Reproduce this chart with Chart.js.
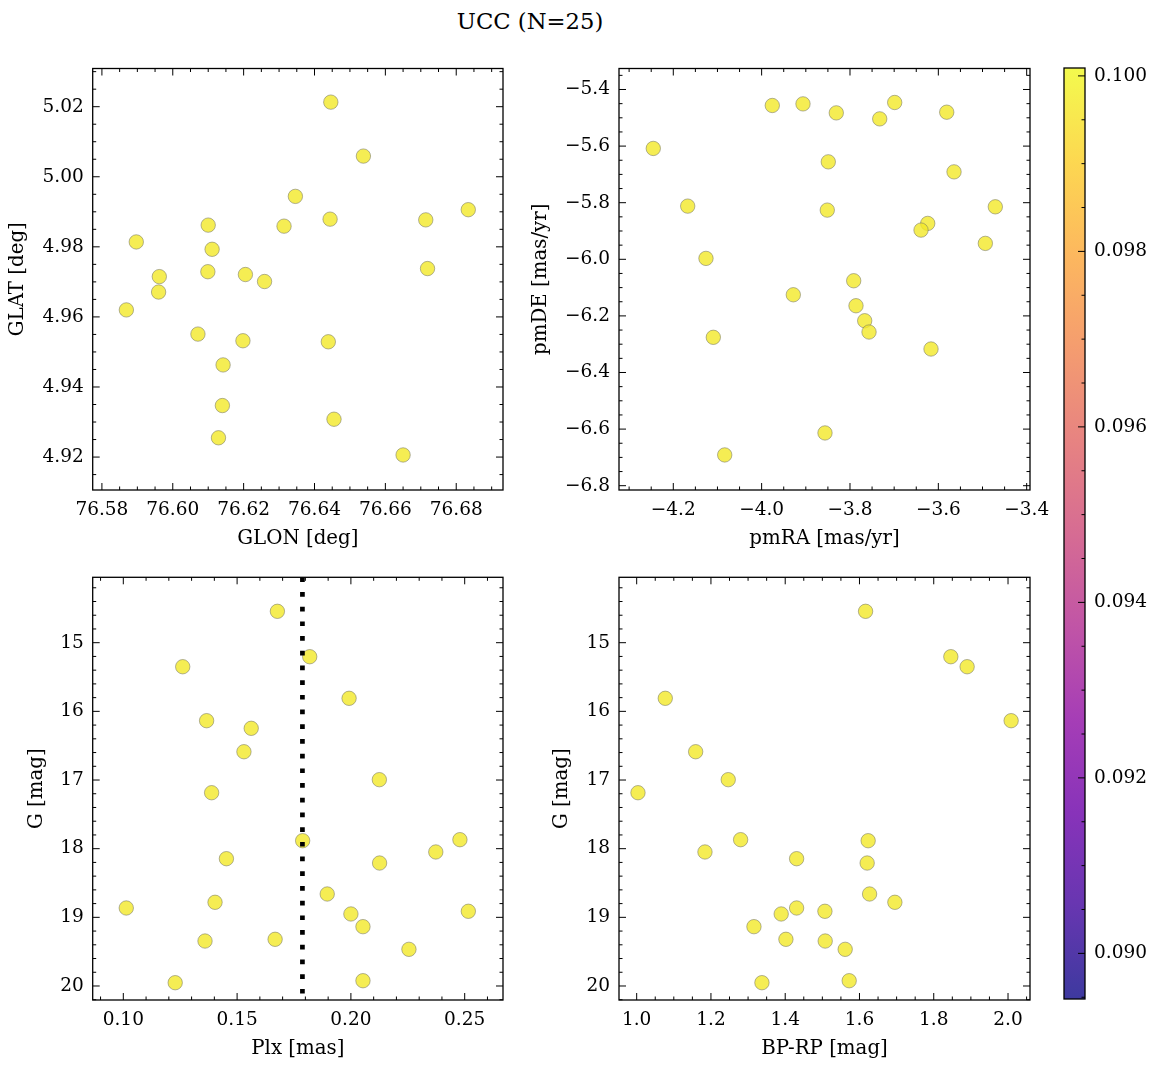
<!DOCTYPE html>
<html lang="en">
<head>
<meta charset="UTF-8" />
<title>UCC (N=25)</title>
<style>
  body {
    margin: 0;
    background: #ffffff;
    font-family: 'DejaVu Serif', serif;
  }
  #page {
    position: relative;
    width: 1161px;
    height: 1067px;
    overflow: hidden;
  }
  #page canvas {
    position: absolute;
  }
  #title {
    position: absolute;
    left: 530px;
    top: 21px;
    transform: translate(-50%, -50%);
    font-size: 22.7px;
    line-height: 1;
    color: #000;
    white-space: nowrap;
  }
</style>
</head>
<body>
<div id="page">
  <div id="title">UCC (N=25)</div>
  <canvas id="c1" width="540" height="520" style="left:0px;top:40px"></canvas>
  <canvas id="c2" width="535" height="520" style="left:525px;top:40px"></canvas>
  <canvas id="c3" width="540" height="517" style="left:0px;top:550px"></canvas>
  <canvas id="c4" width="535" height="517" style="left:525px;top:550px"></canvas>
  <canvas id="cb" width="121" height="1000" style="left:1040px;top:40px"></canvas>
</div>

<script src="https://cdn.jsdelivr.net/npm/chart.js"></script>
<script>
// galactic coordinates
const GLON = [76.6446, 76.6538, 76.6346, 76.6444, 76.6834, 76.6714, 76.6100, 76.6314, 76.5897, 76.6111,
              76.6099, 76.6205, 76.6259, 76.5962, 76.5960, 76.6719, 76.5869, 76.6071, 76.6198, 76.6439,
              76.6142, 76.6140, 76.6455, 76.6129, 76.6650];
const GLAT = [5.0213, 5.0059, 4.9944, 4.9879, 4.9906, 4.9877, 4.9862, 4.9859, 4.9814, 4.9793,
              4.9729, 4.9721, 4.9701, 4.9715, 4.9671, 4.9738, 4.9620, 4.9551, 4.9532, 4.9529,
              4.9463, 4.9347, 4.9308, 4.9255, 4.9206];

// proper motions
const PMRA = [-3.9759, -3.9064, -3.8310, -3.7327, -3.6988, -3.5810, -4.2453, -3.8491, -3.5645, -4.1674,
              -3.8514, -3.4710, -3.6240, -3.6392, -3.4936, -4.1260, -3.7916, -3.9283, -3.7864, -3.7667,
              -3.7569, -4.1094, -3.6166, -3.8566, -4.0836];
const PMDE = [-5.4565, -5.4508, -5.4826, -5.5038, -5.4459, -5.4802, -5.6083, -5.6556, -5.6910, -5.8121,
              -5.8262, -5.8145, -5.8732, -5.8968, -5.9438, -5.9968, -6.0758, -6.1253, -6.1641, -6.2171,
              -6.2570, -6.2757, -6.3170, -6.6136, -6.6913];

// photometry + parallax (same stars, same order)
const GMAG = [14.543, 15.204, 15.350, 15.810, 16.136, 16.247, 16.588, 16.995, 17.185, 17.869,
              17.884, 18.048, 18.146, 18.209, 18.660, 18.781, 18.864, 18.912, 18.951, 19.136,
              19.320, 19.345, 19.466, 19.923, 19.952];
const PLX  = [0.1677, 0.1819, 0.1261, 0.1992, 0.1366, 0.1562, 0.1530, 0.2125, 0.1388, 0.2479,
              0.1788, 0.2373, 0.1453, 0.2126, 0.1896, 0.1403, 0.1013, 0.2516, 0.2000, 0.2053,
              0.1667, 0.1359, 0.2255, 0.2053, 0.1228];
const BPRP = [1.6164, 1.8460, 1.8899, 1.0770, 2.0084, null, 1.1588, 1.2466, 1.0035, 1.2799,
              1.6234, 1.1839, 1.4307, 1.6207, 1.6272, 1.6953, 1.4307, 1.5069, 1.3892, 1.3158,
              1.4019, 1.5077, 1.5615, 1.5723, 1.3373];
const PLX_LINE = 0.1787;

// axis limits
const GLON_RANGE = [76.5774, 76.6932];
const GLAT_RANGE = [4.9106, 5.0309];
const PMRA_RANGE = [-4.3229, -3.3925];
const PMDE_RANGE = [-6.8152, -5.3258];
const PLX_RANGE  = [0.08655, 0.26683];
const BPRP_RANGE = [0.9524, 2.0592];
const GMAG_RANGE = [14.0475, 20.204];
const CB_RANGE   = [0.08948, 0.10009];

// tick labels
const GLON_TICKS = [76.58, 76.60, 76.62, 76.64, 76.66, 76.68];
const GLAT_TICKS = [4.92, 4.94, 4.96, 4.98, 5.00, 5.02];
const PMRA_TICKS = [-4.2, -4.0, -3.8, -3.6, -3.4];
const PMDE_TICKS = [-6.8, -6.6, -6.4, -6.2, -6.0, -5.8, -5.6, -5.4];
const PLX_TICKS  = [0.10, 0.15, 0.20, 0.25];
const BPRP_TICKS = [1.0, 1.2, 1.4, 1.6, 1.8, 2.0];
const GMAG_TICKS = [15, 16, 17, 18, 19, 20];
const CB_TICKS   = [0.090, 0.092, 0.094, 0.096, 0.098, 0.100];

// plasma colormap stops
const PLASMA = ['#0d0887', '#41049d', '#6a00a8', '#8f0da4', '#b12a90', '#cc4778',
                '#e16462', '#f2844b', '#fca636', '#fcce25', '#f0f921'];

Chart.defaults.font.family = "'DejaVu Serif', serif";
Chart.defaults.color = '#000';

const TICK_FONT = { size: 18.5 };
const LABEL_FONT = { size: 19.8 };
const POINT_FILL = 'rgba(243, 232, 40, 0.8)';
const POINT_EDGE = 'rgba(120, 120, 100, 0.8)';

function fmt(v, d) {
  return v.toFixed(d).replace('-', '\u2212');
}

function hexToRgba(h, a) {
  const n = parseInt(h.slice(1), 16);
  return `rgba(${n >> 16}, ${(n >> 8) & 255}, ${n & 255}, ${a})`;
}

// box frame plus inward major/minor ticks on the chosen sides
const frameTicks = {
  id: 'frameTicks',
  afterDatasetsDraw(chart, args, opts) {
    const { ctx, chartArea: a } = chart;
    ctx.save();
    ctx.strokeStyle = '#000';
    ctx.lineWidth = 1;
    for (const ax of opts.axes) {
      const s = chart.scales[ax.id];
      const majors = s.ticks.map(t => t.value);
      const minors = [];
      for (let k = Math.ceil(s.min / ax.minor - 1e-6); k * ax.minor <= s.max + 1e-12; k++) {
        const v = k * ax.minor;
        if (!majors.some(m => Math.abs(m - v) < ax.minor * 1e-3)) minors.push(v);
      }
      const draw = (vals, len) => {
        for (const v of vals) {
          const p = s.getPixelForValue(v);
          for (const side of ax.sides) {
            ctx.beginPath();
            if (side === 'bottom') { ctx.moveTo(p, a.bottom); ctx.lineTo(p, a.bottom - len); }
            if (side === 'top') { ctx.moveTo(p, a.top); ctx.lineTo(p, a.top + len); }
            if (side === 'left') { ctx.moveTo(a.left, p); ctx.lineTo(a.left + len, p); }
            if (side === 'right') { ctx.moveTo(a.right, p); ctx.lineTo(a.right - len, p); }
            ctx.stroke();
          }
        }
      };
      draw(majors, 7);
      draw(minors, 3.5);
    }
    ctx.lineWidth = 1.3;
    ctx.strokeRect(a.left, a.top, a.right - a.left, a.bottom - a.top);
    ctx.restore();
  }
};

function axis(o) {
  return {
    type: 'linear',
    position: o.position,
    reverse: !!o.reverse,
    min: o.range[0],
    max: o.range[1],
    grid: { display: false, drawTicks: false },
    border: { display: false },
    afterBuildTicks: s => { s.ticks = o.ticks.map(v => ({ value: v })); },
    afterFit: s => { if (o.width != null) s.width = o.width; if (o.height != null) s.height = o.height; },
    ticks: {
      font: TICK_FONT, color: '#000', padding: o.tickPad, maxRotation: 0, autoSkip: false,
      callback: v => fmt(v, o.digits)
    },
    title: {
      display: !!o.title, text: o.title, font: LABEL_FONT, color: '#000',
      padding: o.titlePad
    }
  };
}

function scatterPanel(id, pts, p, extra) {
  const datasets = [{
    type: 'scatter',
    data: pts,
    order: 1,
    backgroundColor: POINT_FILL,
    borderColor: POINT_EDGE,
    borderWidth: 0.7,
    pointRadius: 7.2,
    pointHoverRadius: 7.2
  }];
  if (extra) datasets.push(extra);
  return new Chart(document.getElementById(id), {
    type: 'scatter',
    data: { datasets },
    plugins: [frameTicks],
    options: {
      responsive: false,
      animation: false,
      events: [],
      layout: { padding: { top: p.padTop, right: p.padRight, left: 0, bottom: 0 } },
      plugins: {
        legend: { display: false },
        tooltip: { enabled: false },
        frameTicks: {
          axes: [
            { id: 'x', minor: p.xMinor, sides: ['bottom', 'top'] },
            { id: 'y', minor: p.yMinor, sides: ['left', 'right'] }
          ]
        }
      },
      scales: {
        x: axis({ position: 'bottom', range: p.xRange, ticks: p.xTicks, digits: p.xDigits,
                  height: p.xHeight, tickPad: 9, title: p.xTitle, titlePad: { top: 0, bottom: p.xTitlePad } }),
        y: axis({ position: 'left', range: p.yRange, ticks: p.yTicks, digits: p.yDigits, reverse: p.yReverse,
                  width: p.yWidth, tickPad: 9, title: p.yTitle, titlePad: { top: p.yTitlePad, bottom: 0 } })
      }
    }
  });
}

const pairs = (xs, ys) => xs.map((x, i) => ({ x, y: ys[i] })).filter(d => d.x != null && d.y != null);

scatterPanel('c1', pairs(GLON, GLAT), {
  padTop: 28.5, padRight: 37, yWidth: 92.7, xHeight: 70,
  xRange: GLON_RANGE, xTicks: GLON_TICKS, xDigits: 2, xMinor: 0.005, xTitle: 'GLON [deg]', xTitlePad: 9.1,
  yRange: GLAT_RANGE, yTicks: GLAT_TICKS, yDigits: 2, yMinor: 0.005, yTitle: 'GLAT [deg]', yTitlePad: 6.1
});

scatterPanel('c2', pairs(PMRA, PMDE), {
  padTop: 28.5, padRight: 30, yWidth: 94, xHeight: 70,
  xRange: PMRA_RANGE, xTicks: PMRA_TICKS, xDigits: 1, xMinor: 0.05, xTitle: 'pmRA [mas/yr]', xTitlePad: 9.1,
  yRange: PMDE_RANGE, yTicks: PMDE_TICKS, yDigits: 1, yMinor: 0.05, yTitle: 'pmDE [mas/yr]', yTitlePad: 4.1
});

scatterPanel('c3', pairs(PLX, GMAG), {
  padTop: 27.3, padRight: 37, yWidth: 92.7, xHeight: 67,
  xRange: PLX_RANGE, xTicks: PLX_TICKS, xDigits: 2, xMinor: 0.01, xTitle: 'Plx [mas]', xTitlePad: 6.1,
  yRange: GMAG_RANGE, yTicks: GMAG_TICKS, yDigits: 0, yMinor: 0.2, yReverse: true, yTitle: 'G [mag]', yTitlePad: 25.1
}, {
  type: 'line',
  data: [{ x: PLX_LINE, y: GMAG_RANGE[0] }, { x: PLX_LINE, y: GMAG_RANGE[1] }],
  order: 0,
  borderColor: '#000',
  borderWidth: 4.7,
  borderDash: [4.7, 10],
  borderCapStyle: 'butt',
  pointRadius: 0,
  fill: false
});

scatterPanel('c4', pairs(BPRP, GMAG), {
  padTop: 27.3, padRight: 30, yWidth: 94, xHeight: 67,
  xRange: BPRP_RANGE, xTicks: BPRP_TICKS, xDigits: 1, xMinor: 0.05, xTitle: 'BP-RP [mag]', xTitlePad: 6.1,
  yRange: GMAG_RANGE, yTicks: GMAG_TICKS, yDigits: 0, yMinor: 0.2, yReverse: true, yTitle: 'G [mag]', yTitlePad: 25.1
});

// colorbar: one floating bar filled with the plasma gradient
new Chart(document.getElementById('cb'), {
  type: 'bar',
  data: {
    labels: [''],
    datasets: [{
      data: [CB_RANGE],
      barPercentage: 1,
      categoryPercentage: 1,
      borderWidth: 0,
      backgroundColor: c => {
        const a = c.chart.chartArea;
        if (!a) return PLASMA[10];
        const g = c.chart.ctx.createLinearGradient(0, a.bottom, 0, a.top);
        PLASMA.forEach((col, i) => g.addColorStop(i / (PLASMA.length - 1), hexToRgba(col, 0.8)));
        return g;
      }
    }]
  },
  plugins: [frameTicks],
  options: {
    responsive: false,
    animation: false,
    events: [],
    layout: { padding: { top: 28, left: 24, right: 0, bottom: 41 } },
    plugins: {
      legend: { display: false },
      tooltip: { enabled: false },
      frameTicks: { axes: [{ id: 'y', minor: 0.0005, sides: ['right'] }] }
    },
    scales: {
      x: { display: false },
      y: axis({ position: 'right', range: CB_RANGE, ticks: CB_TICKS, digits: 3, width: 76, tickPad: 9,
                title: null, titlePad: 0 })
    }
  }
});
</script>
</body>
</html>
